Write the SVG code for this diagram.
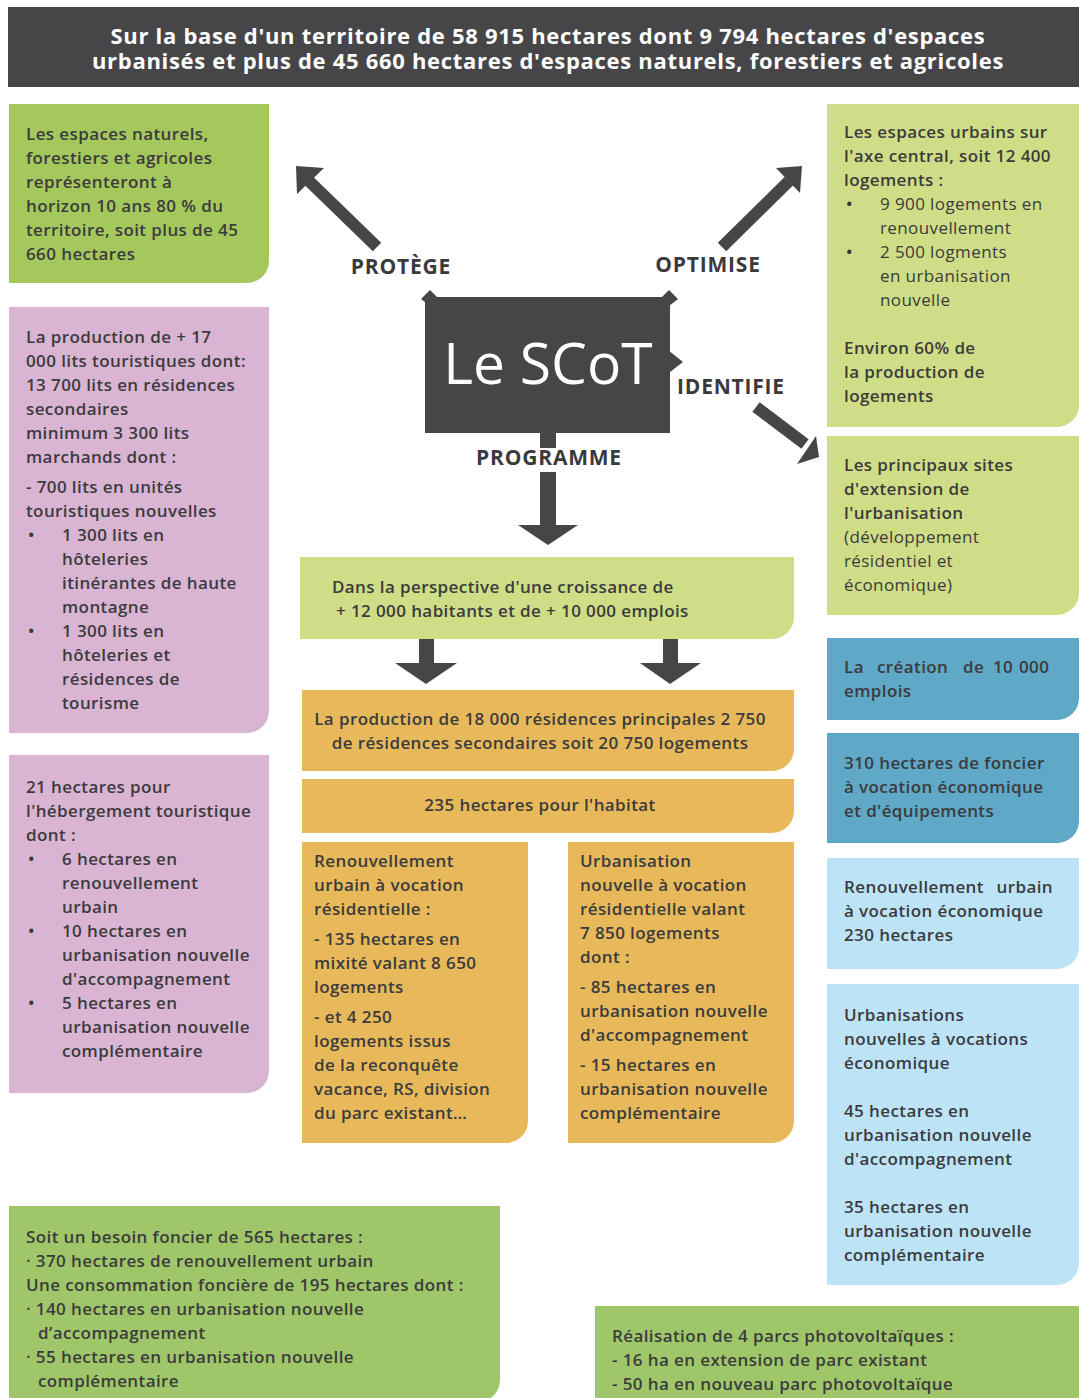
<svg xmlns="http://www.w3.org/2000/svg" width="1079" height="1398" viewBox="0 0 1079 1398">
<style>
text{font-family:"Open Sans","Liberation Sans",sans-serif;fill:#3b3b3d;font-size:17px;font-weight:600;letter-spacing:0.4px}
.r{font-weight:400}
.hd{fill:#ffffff;font-size:22px;font-weight:700;text-anchor:middle;letter-spacing:0.7px}
.lbl{font-size:21px;font-weight:700;fill:#3a3a3c;text-anchor:middle;letter-spacing:0.8px}
.c{text-anchor:middle}
.e{text-anchor:end}
.green{fill:#a5c85d}
.green2{fill:#9fc769}
.lgreen{fill:#cfdd86}
.pink{fill:#d9b5d3}
.blue{fill:#5fa8c7}
.lblue{fill:#bde3f6}
.orange{fill:#e8b95a}
.dark{fill:#464648}
</style>
<rect width="1079" height="1398" fill="#ffffff"/>
<g id="header">
<rect class="dark" x="8" y="7" width="1071" height="80"/>
<text class="hd" x="548" y="44">Sur la base d'un territoire de 58 915 hectares dont 9 794 hectares d'espaces</text>
<text class="hd" x="548" y="69">urbanisés et plus de 45 660 hectares d'espaces naturels, forestiers et agricoles</text>
</g>
<g id="connectors" fill="#464648" stroke="none">
<line x1="377" y1="247" x2="309" y2="181" stroke="#464648" stroke-width="12"/>
<polygon points="296,166 324,168 297,194"/>
<line x1="722" y1="247" x2="789" y2="181" stroke="#464648" stroke-width="12"/>
<polygon points="802,166 776,168 800,193"/>
<line x1="756" y1="407" x2="805" y2="444" stroke="#464648" stroke-width="12"/>
<polygon points="819,457 797,464 816,436"/>
<rect x="540" y="430" width="16" height="18"/>
<rect x="540" y="472" width="16" height="54"/>
<polygon points="518,525 578,525 548,545"/>
<rect x="419" y="638" width="15" height="26"/>
<polygon points="395,663 457,663 426,684"/>
<rect x="663" y="638" width="15" height="26"/>
<polygon points="640,663 701,663 670,684"/>
<polygon points="430,290 439,299 430,306 421,299"/>
<polygon points="669,290 678,299 669,306 660,299"/>
<polygon points="668,350 683,362 670,372"/>
</g>
<g id="protege-label"><text class="lbl" x="401" y="274">PROTÈGE</text></g>
<g id="optimise-label"><text class="lbl" x="708" y="272">OPTIMISE</text></g>
<g id="identifie-label"><text class="lbl" x="731" y="394">IDENTIFIE</text></g>
<g id="programme-label"><text class="lbl" x="549" y="465">PROGRAMME</text></g>
<g id="scot">
<rect class="dark" x="425" y="297" width="245" height="136"/>
<text x="548" y="384" style="font-size:57px;font-weight:400;fill:#ffffff;text-anchor:middle;letter-spacing:0">Le SCoT</text>
</g>
<g id="espaces-naturels">
<path class="green" d="M9 104H269V261A22 22 0 0 1 247 283H9Z"/>
<text x="26" y="140">Les espaces naturels,</text>
<text x="26" y="164">forestiers et agricoles</text>
<text x="26" y="188">représenteront à</text>
<text x="26" y="212">horizon 10 ans 80 % du</text>
<text x="26" y="236">territoire, soit plus de 45</text>
<text x="26" y="260">660 hectares</text>
</g>
<g id="lits-touristiques">
<path class="pink" d="M9 307H269V711A22 22 0 0 1 247 733H9Z"/>
<text x="26" y="343">La production de + 17</text>
<text x="26" y="367">000 lits touristiques dont:</text>
<text x="26" y="391">13 700 lits en résidences</text>
<text x="26" y="415">secondaires</text>
<text x="26" y="439">minimum 3 300 lits</text>
<text x="26" y="463">marchands dont :</text>
<text x="26" y="493">- 700 lits en unités</text>
<text x="26" y="517">touristiques nouvelles</text>
<text x="28" y="541">•</text><text x="62" y="541">1 300 lits en</text>
<text x="62" y="565">hôteleries</text>
<text x="62" y="589">itinérantes de haute</text>
<text x="62" y="613">montagne</text>
<text x="28" y="637">•</text><text x="62" y="637">1 300 lits en</text>
<text x="62" y="661">hôteleries et</text>
<text x="62" y="685">résidences de</text>
<text x="62" y="709">tourisme</text>
</g>
<g id="hebergement">
<path class="pink" d="M9 755H269V1071A22 22 0 0 1 247 1093H9Z"/>
<text x="26" y="793">21 hectares pour</text>
<text x="26" y="817">l'hébergement touristique</text>
<text x="26" y="841">dont :</text>
<text x="28" y="865">•</text><text x="62" y="865">6 hectares en</text>
<text x="62" y="889">renouvellement</text>
<text x="62" y="913">urbain</text>
<text x="28" y="937">•</text><text x="62" y="937">10 hectares en</text>
<text x="62" y="961">urbanisation nouvelle</text>
<text x="62" y="985">d'accompagnement</text>
<text x="28" y="1009">•</text><text x="62" y="1009">5 hectares en</text>
<text x="62" y="1033">urbanisation nouvelle</text>
<text x="62" y="1057">complémentaire</text>
</g>
<g id="espaces-urbains">
<path class="lgreen" d="M827 104H1079V405A22 22 0 0 1 1057 427H827Z"/>
<text x="844" y="138">Les espaces urbains sur</text>
<text x="844" y="162">l'axe central, soit 12 400</text>
<text x="844" y="186">logements :</text>
<text x="846" y="210">•</text><text class="r" x="880" y="210">9 900 logements en</text>
<text class="r" x="880" y="234">renouvellement</text>
<text x="846" y="258">•</text><text class="r" x="880" y="258">2 500 logments</text>
<text class="r" x="880" y="282">en urbanisation</text>
<text class="r" x="880" y="306">nouvelle</text>
<text x="844" y="354">Environ 60% de</text>
<text x="844" y="378">la production de</text>
<text x="844" y="402">logements</text>
</g>
<g id="sites-extension">
<path class="lgreen" d="M827 436H1079V593A22 22 0 0 1 1057 615H827Z"/>
<text x="844" y="471">Les principaux sites</text>
<text x="844" y="495">d'extension de</text>
<text x="844" y="519">l'urbanisation</text>
<text class="r" x="844" y="543">(développement</text>
<text class="r" x="844" y="567">résidentiel et</text>
<text class="r" x="844" y="591">économique)</text>
</g>
<g id="emplois">
<path class="blue" d="M827 638H1079V698A22 22 0 0 1 1057 720H827Z"/>
<text y="673"><tspan x="844">La</tspan><tspan x="877">création</tspan><tspan x="963">de</tspan><tspan x="993">10</tspan><tspan x="1019">000</tspan></text>
<text x="844" y="697">emplois</text>
</g>
<g id="foncier-eco">
<path class="blue" d="M827 733H1079V821A22 22 0 0 1 1057 843H827Z"/>
<text x="844" y="769">310 hectares de foncier</text>
<text x="844" y="793">à vocation économique</text>
<text x="844" y="817">et d'équipements</text>
</g>
<g id="renouvellement-eco">
<path class="lblue" d="M827 858H1079V947A22 22 0 0 1 1057 969H827Z"/>
<text x="844" y="893">Renouvellement</text><text class="e" x="1053" y="893">urbain</text>
<text x="844" y="917">à vocation économique</text>
<text x="844" y="941">230 hectares</text>
</g>
<g id="urbanisations-eco">
<path class="lblue" d="M827 984H1079V1263A22 22 0 0 1 1057 1285H827Z"/>
<text x="844" y="1021">Urbanisations</text>
<text x="844" y="1045">nouvelles à vocations</text>
<text x="844" y="1069">économique</text>
<text x="844" y="1117">45 hectares en</text>
<text x="844" y="1141">urbanisation nouvelle</text>
<text x="844" y="1165">d'accompagnement</text>
<text x="844" y="1213">35 hectares en</text>
<text x="844" y="1237">urbanisation nouvelle</text>
<text x="844" y="1261">complémentaire</text>
</g>
<g id="croissance">
<path class="lgreen" d="M300 557H794V617A22 22 0 0 1 772 639H300Z"/>
<text x="332" y="593">Dans la perspective d'une croissance de</text>
<text x="336" y="617">+ 12 000 habitants et de + 10 000 emplois</text>
</g>
<g id="production-logements">
<path class="orange" d="M302 690H794V749A22 22 0 0 1 772 771H302Z"/>
<text class="c" x="540" y="725">La production de 18 000 résidences principales 2 750</text>
<text class="c" x="540" y="749">de résidences secondaires soit 20 750 logements</text>
</g>
<g id="habitat">
<path class="orange" d="M302 779H794V811A22 22 0 0 1 772 833H302Z"/>
<text class="c" x="540" y="811">235 hectares pour l'habitat</text>
</g>
<g id="renouvellement-residentiel">
<path class="orange" d="M302 842H528V1121A22 22 0 0 1 506 1143H302Z"/>
<text x="314" y="867">Renouvellement</text>
<text x="314" y="891">urbain à vocation</text>
<text x="314" y="915">résidentielle :</text>
<text x="314" y="945">- 135 hectares en</text>
<text x="314" y="969">mixité valant 8 650</text>
<text x="314" y="993">logements</text>
<text x="314" y="1023">- et 4 250</text>
<text x="314" y="1047">logements issus</text>
<text x="314" y="1071">de la reconquête</text>
<text x="314" y="1095">vacance, RS, division</text>
<text x="314" y="1119">du parc existant…</text>
</g>
<g id="urbanisation-residentielle">
<path class="orange" d="M568 842H794V1121A22 22 0 0 1 772 1143H568Z"/>
<text x="580" y="867">Urbanisation</text>
<text x="580" y="891">nouvelle à vocation</text>
<text x="580" y="915">résidentielle valant</text>
<text x="580" y="939">7 850 logements</text>
<text x="580" y="963">dont :</text>
<text x="580" y="993">- 85 hectares en</text>
<text x="580" y="1017">urbanisation nouvelle</text>
<text x="580" y="1041">d'accompagnement</text>
<text x="580" y="1071">- 15 hectares en</text>
<text x="580" y="1095">urbanisation nouvelle</text>
<text x="580" y="1119">complémentaire</text>
</g>
<g id="besoin-foncier">
<path class="green2" d="M9 1206H500V1380A22 22 0 0 1 478 1402H9Z"/>
<text x="26" y="1243">Soit un besoin foncier de 565 hectares :</text>
<text x="26" y="1267">· 370 hectares de renouvellement urbain</text>
<text x="26" y="1291">Une consommation foncière de 195 hectares dont :</text>
<text x="26" y="1315">· 140 hectares en urbanisation nouvelle</text>
<text x="38" y="1339">d’accompagnement</text>
<text x="26" y="1363">· 55 hectares en urbanisation nouvelle</text>
<text x="38" y="1387">complémentaire</text>
</g>
<g id="photovoltaique">
<rect class="green2" x="595" y="1306" width="484" height="92"/>
<text x="612" y="1342">Réalisation de 4 parcs photovoltaïques :</text>
<text x="612" y="1366">- 16 ha en extension de parc existant</text>
<text x="612" y="1390">- 50 ha en nouveau parc photovoltaïque</text>
</g>
</svg>
